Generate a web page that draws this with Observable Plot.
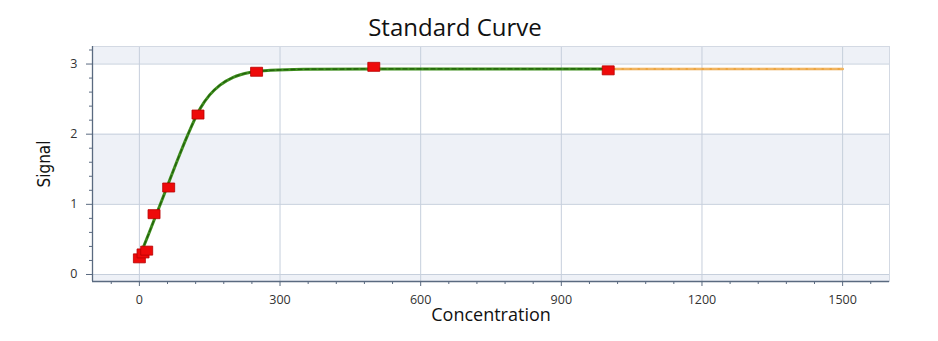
<!DOCTYPE html>
<html>
<head>
<meta charset="utf-8">
<script src="https://cdn.jsdelivr.net/npm/d3@7"></script>
<script src="https://cdn.jsdelivr.net/npm/@observablehq/plot@0.6"></script>
<style>
  html, body { margin: 0; padding: 0; background: #fff; }
  #wrap { position: relative; width: 938px; height: 341px; }
  #title { position: absolute; left: 0; top: 12px; width: 910px; text-align: center;
           font-family: "Open Sans", "Noto Sans", sans-serif; font-size: 24px; color: #111; line-height: 30px; }
</style>
</head>
<body>
<div id="wrap">
  <div id="title">Standard Curve</div>
  <div id="chart"></div>
</div>
<script>
// Standard points (concentration, signal)
const concentrations = [0, 7.8, 15.6, 31.25, 62.5, 125, 250, 500, 1000];
const signals        = [0.23, 0.30, 0.34, 0.86, 1.24, 2.28, 2.89, 2.96, 2.91];

// Fitted curve (green, within standards range)
const fitX = [0, 8, 20, 31, 47, 62, 80, 100, 120, 130, 150, 172, 200, 235, 280, 350, 500, 700, 1000];
const fitY = [0.24, 0.38, 0.58, 0.77, 1.04, 1.30, 1.61, 1.94, 2.24, 2.37, 2.56, 2.70, 2.81, 2.88, 2.91, 2.925, 2.93, 2.93, 2.93];

// Extrapolated part (orange)
const extX = [1000, 1250, 1500];
const extY = [2.93, 2.93, 2.93];

// Axes
const xDomain = [-100, 1600];
const yDomain = [-0.1, 3.25];
const xTicks = [0, 300, 600, 900, 1200, 1500];
const xMinorTicks = [-60, 60, 120, 180, 240, 360, 420, 480, 540, 660, 720, 780, 840, 960, 1020, 1080, 1140, 1260, 1320, 1380, 1440, 1560];
const yTicks = [0, 1, 2, 3];
const yMinorTicks = [0.2, 0.4, 0.6, 0.8, 1.2, 1.4, 1.6, 1.8, 2.2, 2.4, 2.6, 2.8, 3.2];
const bandLow = [-0.1, 1, 3];
const bandHigh = [0, 2, 3.25];

const pts = concentrations.map((c, i) => ({x: c, y: signals[i]}));
const fit = fitX.map((x, i) => ({x, y: fitY[i]}));
const ext = extX.map((x, i) => ({x, y: extY[i]}));
const bands = bandLow.map((lo, i) => ({y1: lo, y2: bandHigh[i]}));

const rectSymbol = {
  draw(ctx, size) {
    const w = 12, h = 9;
    ctx.moveTo(-w / 2, -h / 2);
    ctx.lineTo(w / 2, -h / 2);
    ctx.lineTo(w / 2, h / 2);
    ctx.lineTo(-w / 2, h / 2);
    ctx.closePath();
  }
};

const fmt = d => String(d);

const chart = Plot.plot({
  width: 938,
  height: 341,
  marginTop: 46,
  marginBottom: 60,
  marginLeft: 92,
  marginRight: 49,
  style: {fontFamily: "'Open Sans', 'Noto Sans', sans-serif", fontSize: "12.5px", color: "#333", background: "#fff"},
  x: {domain: xDomain},
  y: {domain: yDomain},
  marks: [
    Plot.rect(bands, {y1: "y1", y2: "y2", fill: "#eef1f7"}),
    Plot.gridX(xTicks, {stroke: "#c6cfdc", strokeOpacity: 1, strokeWidth: 1}),
    Plot.gridY(yTicks, {stroke: "#c6cfdc", strokeOpacity: 1, strokeWidth: 1}),
    Plot.frame({stroke: "#d3d9e3"}),
    Plot.ruleX([xDomain[0]], {stroke: "#5a6a80", strokeWidth: 1.3}),
    Plot.ruleY([yDomain[0]], {stroke: "#5a6a80", strokeWidth: 1.3}),
    Plot.axisX(xTicks, {tickSize: 5, tickPadding: 9, tickFormat: fmt, stroke: "#5a6a80", color: "#333", fontSize: 12.5, label: null}),
    Plot.axisX(xMinorTicks, {tickSize: 3, tickFormat: () => "", stroke: "#5a6a80", label: null}),
    Plot.axisY(yTicks, {tickSize: 6, tickPadding: 9, tickFormat: fmt, stroke: "#5a6a80", color: "#333", fontSize: 12.5, label: null}),
    Plot.axisY(yMinorTicks, {tickSize: 3, tickFormat: () => "", stroke: "#5a6a80", label: null}),
    Plot.text(["Concentration"], {frameAnchor: "bottom", dy: 39, fontSize: 18, fill: "#111", fontFamily: "'Open Sans', sans-serif"}),
    Plot.text(["Signal"], {frameAnchor: "left", textAnchor: "middle", dx: -48, rotate: -90, fontSize: 17, fill: "#111", fontFamily: "'Liberation Sans Narrow', 'DejaVu Sans Condensed', sans-serif"}),
    // extrapolated (orange)
    Plot.line(ext, {x: "x", y: "y", stroke: "#eca543", strokeWidth: 2.5}),
    Plot.line(ext, {x: "x", y: "y", stroke: "#f4c47e", strokeWidth: 1, strokeDasharray: "5,3"}),
    // fitted curve (green)
    Plot.line(fit, {x: "x", y: "y", curve: "monotone-x", stroke: "#3f8f1f", strokeWidth: 3}),
    Plot.line(fit, {x: "x", y: "y", curve: "monotone-x", stroke: "#22600a", strokeWidth: 1.3, strokeDasharray: "4,3"}),
    // standards
    Plot.dot(pts, {x: "x", y: "y", symbol: rectSymbol, r: 6, fill: "#ee0a0a", stroke: "#b80000", strokeWidth: 0.8})
  ]
});
document.getElementById("chart").appendChild(chart);
</script>
</body>
</html>
